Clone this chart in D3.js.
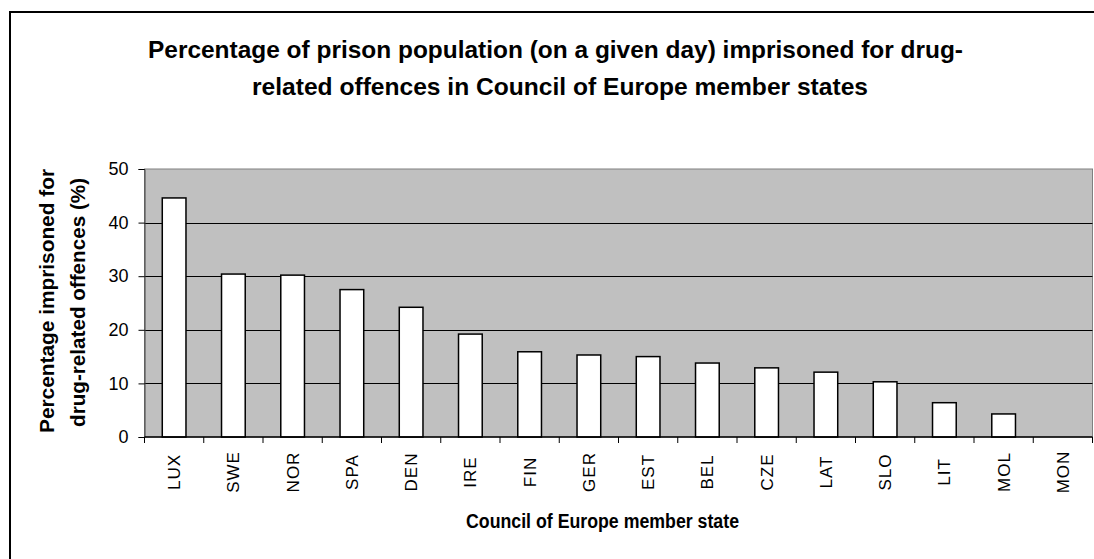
<!DOCTYPE html>
<html>
<head>
<meta charset="utf-8">
<script src="https://cdn.jsdelivr.net/npm/d3@7"></script>
<style>
  body { margin: 0; background: #fff; }
  svg { display: block; }
  text { font-family: "Liberation Sans", Arial, sans-serif; fill: #000; }
</style>
</head>
<body>
<script>
// chart values
var states = ["LUX", "SWE", "NOR", "SPA", "DEN", "IRE", "FIN", "GER", "EST", "BEL", "CZE", "LAT", "SLO", "LIT", "MOL", "MON"];
var percent = [44.6, 30.4, 30.2, 27.5, 24.2, 19.2, 15.9, 15.3, 15.0, 13.8, 12.9, 12.1, 10.3, 6.4, 4.3, 0];
var yTicks = [0, 10, 20, 30, 40, 50];
var titleLines = ["Percentage of prison population (on a given day) imprisoned for drug-",
                  "related offences in Council of Europe member states"];
var yTitleLines = ["Percentage imprisoned for", "drug-related offences (%)"];
var xTitle = "Council of Europe member state";

var width = 1094;
var height = 559;
var plot = {left: 144.5, top: 169, right: 1092.5, bottom: 437};

var svg = d3.select("body").append("svg").attr("width", width).attr("height", height);

// outer frame (runs off the right and bottom edge)
svg.append("rect").attr("x", 10).attr("y", 12).attr("width", 1100).attr("height", 600)
    .attr("fill", "none").attr("stroke", "#000").attr("stroke-width", 2);

var x = d3.scaleBand().domain(states).range([plot.left, plot.right]).paddingInner(0.6).paddingOuter(0.3);
var y = d3.scaleLinear().domain([0, 50]).range([plot.bottom, plot.top]);

// plot area
svg.append("rect").attr("x", plot.left).attr("y", plot.top)
    .attr("width", plot.right - plot.left).attr("height", plot.bottom - plot.top)
    .attr("fill", "#c0c0c0").attr("stroke", "#808080").attr("stroke-width", 1);

// gridlines
svg.selectAll(".grid").data(yTicks.filter(function (d) { return d > 0 && d < 50; })).enter().append("line")
    .attr("class", "grid")
    .attr("x1", plot.left).attr("x2", plot.right)
    .attr("y1", function (d) { return Math.round(y(d)) + 0.5; })
    .attr("y2", function (d) { return Math.round(y(d)) + 0.5; })
    .attr("stroke", "#000").attr("stroke-width", 1);

// bars
svg.selectAll(".bar").data(percent).enter().append("rect")
    .attr("class", "bar")
    .attr("x", function (d, i) { return x(states[i]); })
    .attr("y", function (d) { return y(d); })
    .attr("width", x.bandwidth())
    .attr("height", function (d) { return y(0) - y(d); })
    .attr("fill", "#fff")
    .attr("stroke", function (d) { return d > 0 ? "#000" : "none"; })
    .attr("stroke-width", 1.5);

// y axis
var yAxis = d3.axisLeft(y).tickValues(yTicks).tickSize(6).tickPadding(10);
var gy = svg.append("g").attr("transform", "translate(" + plot.left + ",0)").call(yAxis);
gy.select(".domain").attr("stroke", "#404040");
gy.selectAll(".tick line").attr("stroke", "#000");
gy.selectAll("text").style("font-size", "18px").attr("fill", "#000");

// x axis line + category boundary ticks
svg.append("line").attr("x1", plot.left).attr("x2", plot.right)
    .attr("y1", plot.bottom).attr("y2", plot.bottom).attr("stroke", "#000").attr("stroke-width", 1.5);
var step = x.step();
svg.selectAll(".xtick").data(d3.range(states.length + 1)).enter().append("line")
    .attr("class", "xtick")
    .attr("x1", function (i) { return plot.left + i * step; })
    .attr("x2", function (i) { return plot.left + i * step; })
    .attr("y1", plot.bottom).attr("y2", plot.bottom + 6)
    .attr("stroke", "#000");

// category labels, rotated
svg.selectAll(".xlab").data(states).enter().append("text")
    .attr("class", "xlab")
    .attr("transform", function (d) {
        return "translate(" + (x(d) + x.bandwidth() / 2 + 6) + ",472) rotate(-90)";
    })
    .attr("text-anchor", "middle")
    .style("font-size", "17px")
    .style("letter-spacing", "1px")
    .text(function (d) { return d; });

// titles
var tl = [{t: titleLines[0], cx: 555.5, y: 58, len: 815}, {t: titleLines[1], cx: 560, y: 95, len: 616}];
svg.selectAll(".title").data(tl).enter().append("text")
    .attr("class", "title")
    .attr("x", function (d) { return d.cx; }).attr("y", function (d) { return d.y; })
    .attr("text-anchor", "middle")
    .attr("textLength", function (d) { return d.len; })
    .attr("lengthAdjust", "spacingAndGlyphs")
    .style("font-size", "24px").style("font-weight", "bold")
    .text(function (d) { return d.t; });

var yl = [{t: yTitleLines[0], bx: 54, cy: 301, len: 264}, {t: yTitleLines[1], bx: 84.5, cy: 302.5, len: 249}];
svg.selectAll(".ytitle").data(yl).enter().append("text")
    .attr("class", "ytitle")
    .attr("transform", function (d) { return "translate(" + d.bx + "," + d.cy + ") rotate(-90)"; })
    .attr("text-anchor", "middle")
    .attr("textLength", function (d) { return d.len; })
    .attr("lengthAdjust", "spacingAndGlyphs")
    .style("font-size", "20px").style("font-weight", "bold")
    .text(function (d) { return d.t; });

svg.append("text").attr("x", 602.5).attr("y", 528)
    .attr("text-anchor", "middle")
    .attr("textLength", 273).attr("lengthAdjust", "spacingAndGlyphs")
    .style("font-size", "20px").style("font-weight", "bold")
    .text(xTitle);
</script>
</body>
</html>
